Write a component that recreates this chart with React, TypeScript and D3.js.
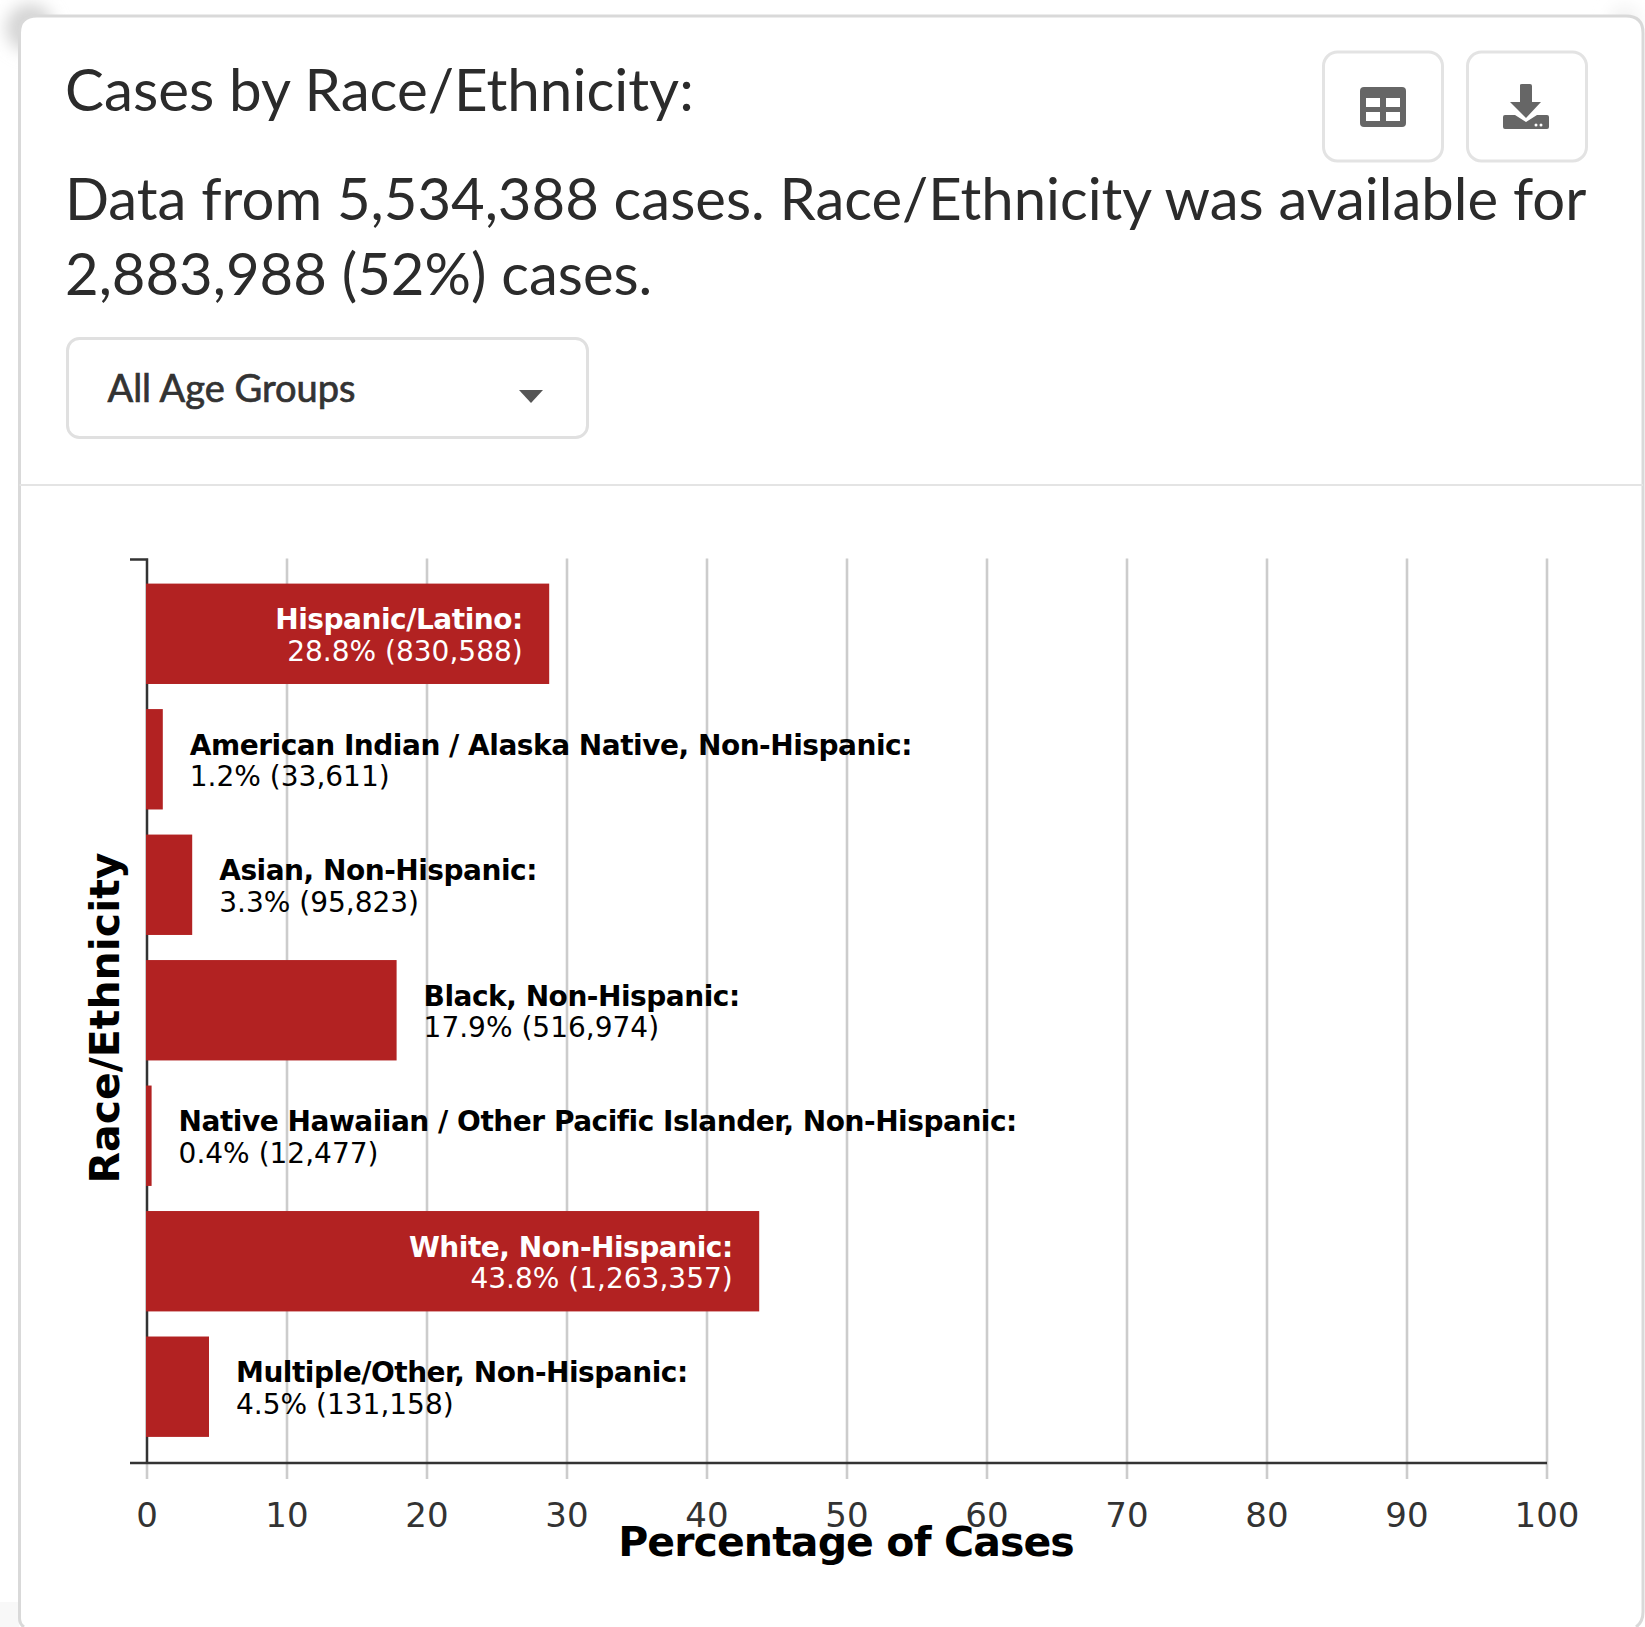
import React from "react";
import * as d3 from "d3";

const categories = [
  "Hispanic/Latino:",
  "American Indian / Alaska Native, Non-Hispanic:",
  "Asian, Non-Hispanic:",
  "Black, Non-Hispanic:",
  "Native Hawaiian / Other Pacific Islander, Non-Hispanic:",
  "White, Non-Hispanic:",
  "Multiple/Other, Non-Hispanic:",
];
const percentages = [28.8, 1.2, 3.3, 17.9, 0.4, 43.8, 4.5];
const counts = ["830,588", "33,611", "95,823", "516,974", "12,477", "1,263,357", "131,158"];
const xTicks = [0, 10, 20, 30, 40, 50, 60, 70, 80, 90, 100];

const W = 1645;
const H = 1627;
const x = d3.scaleLinear().domain([0, 100]).range([147, 1547]);
const y = d3.scaleBand<string>().domain(categories).range([558.5, 1462]).padding(0.2);
const chartFont = "Verdana, 'DejaVu Sans', sans-serif";
const headFont = "Lato, sans-serif";

export default function App() {
  const plotBottom = 1463;
  const plotTop = 559.5;
  const barLeft = x(0) - 1;
  return (
    <svg width={W} height={H} viewBox={`0 0 ${W} ${H}`} style={{ position: "absolute", left: 0, top: 0, display: "block", background: "#fff" }}>
      <defs>
        <filter id="blur" x="-60%" y="-60%" width="220%" height="220%">
          <feGaussianBlur stdDeviation="8" />
        </filter>
      </defs>
      <circle cx="30" cy="28" r="24" fill="#d4d4d4" filter="url(#blur)" />
      <circle cx="1625" cy="22" r="16" fill="#f2f2f2" filter="url(#blur)" />
      <rect x="0" y="1602" width="19" height="25" fill="#f8f8f8" />
      <path
        d={`M19.5 1618 V33 Q19.5 16 37 16 H1626 Q1643 16 1643 33 V1612 Q1643 1622 1636 1627 H24 Q19.5 1624 19.5 1618 Z`}
        fill="#fff"
        stroke="none"
      />
      <path
        d={`M24 1627 Q19.5 1624 19.5 1618 V33 Q19.5 16 37 16 H1626 Q1643 16 1643 33 V1612 Q1643 1622 1636 1627`}
        fill="none"
        stroke="#d9d9d9"
        strokeWidth={3}
      />
      <text x={65} y={110.5} fontFamily={headFont} fontSize={58.3} fill="#2b2b2b" fontWeight={400}>Cases by Race/Ethnicity:</text>
      <text x={65} y={220} fontFamily={headFont} fontSize={58} fill="#2b2b2b">Data from 5,534,388 cases. Race/Ethnicity was available for</text>
      <text x={65} y={295} fontFamily={headFont} fontSize={58} fill="#2b2b2b">2,883,988 (52%) cases.</text>

      <rect x={1323.5} y={52} width={119} height={109} rx={14} fill="#fff" stroke="#e3e3e3" strokeWidth={3} />
      <rect x={1467.5} y={52} width={119} height={109} rx={14} fill="#fff" stroke="#e3e3e3" strokeWidth={3} />
      <rect x={1360} y={87} width={46} height={40} rx={4} fill="#666" />
      <rect x={1366} y={98} width={14} height={9} fill="#fff" />
      <rect x={1386} y={98} width={14} height={9} fill="#fff" />
      <rect x={1366} y={112} width={14} height={9} fill="#fff" />
      <rect x={1386} y={112} width={14} height={9} fill="#fff" />
      <path d="M1520 85 Q1520 84 1522 84 H1530 Q1532 84 1532 86 V102 H1541 L1526 118 L1510 102 H1520 Z" fill="#666" />
      <path d="M1505 115 H1515 L1526 122 L1537 115 H1547 Q1549 115 1549 117 V127 Q1549 129 1547 129 H1505 Q1503 129 1503 127 V117 Q1503 115 1505 115 Z" fill="#666" />
      <circle cx={1536} cy={125} r={1.5} fill="#fff" />
      <circle cx={1541} cy={125} r={1.5} fill="#fff" />

      <rect x={67.5} y={338.5} width={520} height={99} rx={12} fill="#fff" stroke="#e0e0e0" strokeWidth={3} />
      <text x={107.5} y={401.5} fontFamily={headFont} fontSize={38} fontWeight={400} fill="#333" stroke="#333" strokeWidth={0.7}>All Age Groups</text>
      <path d="M519 390 H543 L531 403 Z" fill="#555" />
      <line x1={19.5} x2={1643} y1={485} y2={485} stroke="#e4e4e4" strokeWidth={2} />

      {xTicks.map((t) => (
        <g key={t}>
          <line x1={x(t)} x2={x(t)} y1={plotTop - 1} y2={1479} stroke="#ccc" strokeWidth={2.6} />
          <text x={x(t)} y={1527} textAnchor="middle" fontFamily={chartFont} fontSize={34} fill="#333">{t}</text>
        </g>
      ))}
      <path d={`M130 ${plotTop} H${x(0)} V${plotBottom}`} fill="none" stroke="#333" strokeWidth={2.4} />
      <line x1={130} x2={x(100)} y1={plotBottom} y2={plotBottom} stroke="#333" strokeWidth={2.6} />

      {categories.map((c, i) => {
        const v = percentages[i];
        const top = y(c)!;
        const inside = v >= 25;
        const tx = inside ? x(v) - 27.5 : x(v) + 26;
        const fill = inside ? "#fff" : "#000";
        return (
          <g key={c}>
            <rect x={barLeft} y={top} width={x(v) - x(0)} height={y.bandwidth()} fill="#b22222" />
            <text x={tx} y={top + 45.5} textAnchor={inside ? "end" : "start"} fontFamily={chartFont} fontSize={28} fontWeight={700} letterSpacing={-0.48} fill={fill}>{c}</text>
            <text x={tx} y={top + 77} textAnchor={inside ? "end" : "start"} fontFamily={chartFont} fontSize={28} fill={fill}>{`${v.toFixed(1)}% (${counts[i]})`}</text>
          </g>
        );
      })}

      <text x={846} y={1556} textAnchor="middle" fontFamily={chartFont} fontSize={41} fontWeight={700} letterSpacing={-0.9} fill="#000">Percentage of Cases</text>
      <text transform={`translate(119,1018) rotate(-90)`} textAnchor="middle" fontFamily={chartFont} fontSize={41} fontWeight={700} fill="#000">Race/Ethnicity</text>
    </svg>
  );
}
